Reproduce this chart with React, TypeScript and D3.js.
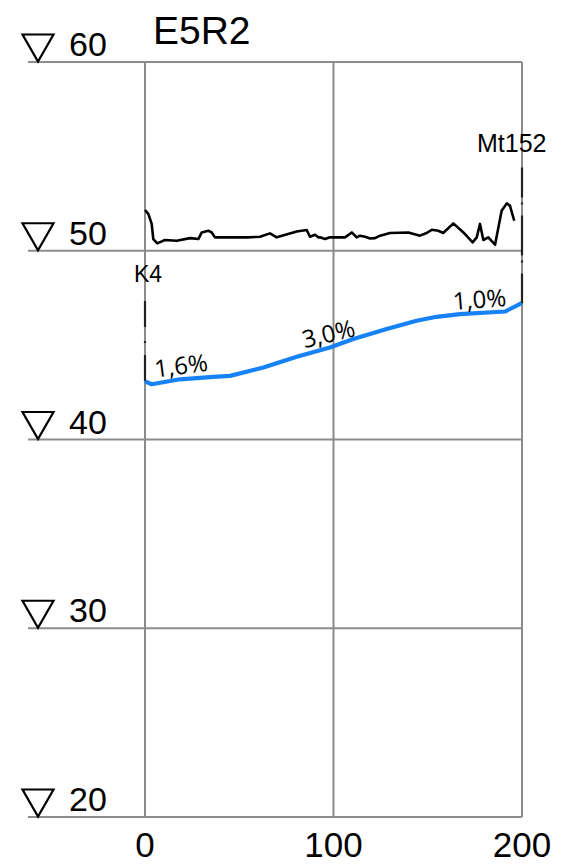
import React from "react";
import * as d3 from "d3";

const title = "E5R2";
const yTicks = [20, 30, 40, 50, 60];
const xTicks = [0, 100, 200];

// existing ground profile [distance, elevation]
const groundDist = [0, 1.75, 3.55, 4.4, 6.5, 10.6, 16.8, 23.9, 28.3, 30.1, 33.6, 35.4, 37.1, 54.0, 61.0, 66.3, 69.9, 80.5, 85.8, 87.5, 90.2, 91.9, 92.8, 95.5, 98.1, 106.1, 109.7, 112.3, 114.1, 116.7, 119.4, 122.0, 124.7, 130.0, 139.7, 145.9, 149.4, 152.1, 155.6, 158.2, 163.6, 168.9, 173.8, 176.0, 177.7, 179.5, 182.1, 185.7, 189.2, 191.9, 193.6, 195.9];
const groundElev = [52.16, 51.95, 51.42, 50.62, 50.39, 50.57, 50.53, 50.67, 50.62, 50.97, 51.06, 50.97, 50.71, 50.71, 50.74, 50.92, 50.71, 51.02, 51.1, 50.74, 50.85, 50.71, 50.71, 50.62, 50.71, 50.71, 50.97, 50.71, 50.8, 50.74, 50.65, 50.67, 50.8, 50.94, 50.97, 50.8, 50.94, 51.11, 51.06, 50.94, 51.45, 50.97, 50.44, 50.71, 51.42, 50.57, 50.71, 50.32, 52.12, 52.51, 52.39, 51.59];

// design profile
const designDist = [0, 3.55, 18.6, 36.2, 45.1, 62.8, 80.5, 98.1, 110.5, 128.2, 144.1, 154.7, 167.1, 191.0, 199.8];
const designElev = [43.08, 42.93, 43.19, 43.32, 43.37, 43.81, 44.38, 44.87, 45.32, 45.85, 46.29, 46.5, 46.64, 46.78, 47.23];

// grade labels
const gradeText = ["1,6%", "3,0%", "1,0%"];
const gradeValue = [1.6, 3.0, 1.0];
const gradeDist = [20, 99, 178];

// station markers
const markerName = ["K4", "Mt152"];
const markerDist = [0, 200];
const markerFrom = [43.1, 47.2];
const markerTo = [47.6, 54.8];

const W = 563;
const H = 866;

export default function App() {
  const x = d3.scaleLinear().domain([0, 200]).range([145, 522]);
  const y = d3.scaleLinear().domain([20, 60]).range([817, 62]);
  const sans = "'Liberation Sans', Arial, sans-serif";
  const cad = "'Open Sans', 'DejaVu Sans', sans-serif";
  const grid = "#8c8c8c";

  const groundPath = d3
    .line<[number, number]>()
    .x((d) => x(d[0]))
    .y((d) => y(d[1]))
    .curve(d3.curveLinear)(groundDist.map((d, i) => [d, groundElev[i]]));
  const designPath = d3
    .line<[number, number]>()
    .x((d) => x(d[0]))
    .y((d) => y(d[1]))
    .curve(d3.curveLinear)(designDist.map((d, i) => [d, designElev[i]]));

  const interp = (d: number) => {
    const i = d3.bisectRight(designDist, d) - 1;
    const j = Math.min(i + 1, designDist.length - 1);
    if (i === j) return designElev[i];
    const t = (d - designDist[i]) / (designDist[j] - designDist[i]);
    return designElev[i] + t * (designElev[j] - designElev[i]);
  };
  const pxPerM = (y(0) - y(1)) / (x(1) - x(0));

  return (
    <svg
      width={W}
      height={H}
      style={{ position: "absolute", left: 0, top: 0, background: "#fff" }}
    >
      <rect width={W} height={H} fill="#fff" />
      {yTicks.map((t) => (
        <line key={"h" + t} x1={28} x2={x(200)} y1={y(t)} y2={y(t)} stroke={grid} strokeWidth={2} />
      ))}
      {xTicks.map((t) => (
        <line key={"v" + t} x1={x(t)} x2={x(t)} y1={y(60)} y2={y(20)} stroke={grid} strokeWidth={2} />
      ))}
      {markerDist.map((d, i) => (
        <line
          key={"m" + i}
          x1={x(d)}
          x2={x(d)}
          y1={y(markerFrom[i])}
          y2={y(markerTo[i])}
          stroke="#222"
          strokeWidth={2.2}
          strokeDasharray={i === 0 ? "26 12 2 14" : "30 11 2 5 40 11 2 5"}
        />
      ))}
      {yTicks.map((t) => (
        <g key={"yl" + t}>
          <path
            d={`M${22.5},${y(t) - 27.5} L${53.5},${y(t) - 27.5} L${38},${y(t) - 0.5} Z`}
            fill="none"
            stroke="#000"
            strokeWidth={2.2}
            strokeLinejoin="miter"
          />
          <text x={69} y={y(t) - 6} fontFamily={sans} fontSize={34} fill="#000">
            {t}
          </text>
        </g>
      ))}
      {xTicks.map((t) => (
        <text key={"xl" + t} x={x(t)} y={857} textAnchor="middle" fontFamily={sans} fontSize={35} fill="#000">
          {t}
        </text>
      ))}
      <text x={153} y={44} fontFamily={sans} fontSize={39} fill="#000">
        {title}
      </text>
      <path d={groundPath || ""} fill="none" stroke="#000" strokeWidth={2.6} strokeLinejoin="round" />
      <path d={designPath || ""} fill="none" stroke="#1682f5" strokeWidth={4.2} strokeLinejoin="round" />
      {gradeText.map((s, i) => {
        const cx = x(gradeDist[i]);
        const cy = y(interp(gradeDist[i]));
        const ang = (-Math.atan((gradeValue[i] / 100) * pxPerM * 0.8) * 180) / Math.PI;
        return (
          <text
            key={"g" + i}
            transform={`translate(${cx},${cy}) rotate(${ang})`}
            y={-5}
            textAnchor="middle"
            fontFamily={cad}
            fontWeight={400}
            fontSize={24}
            fill="#000"
          >
            {s}
          </text>
        );
      })}
      <text x={134} y={282} fontFamily={sans} fontSize={23} fill="#000">
        {markerName[0]}
      </text>
      <text x={477} y={152} fontFamily={sans} fontSize={25} fill="#000">
        {markerName[1]}
      </text>
    </svg>
  );
}
